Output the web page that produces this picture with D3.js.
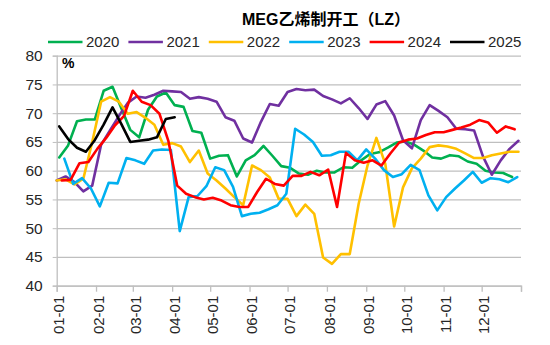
<!DOCTYPE html>
<html>
<head>
<meta charset="utf-8">
<script src="https://cdn.jsdelivr.net/npm/d3@7/dist/d3.min.js"></script>
<style>
  html, body { margin: 0; padding: 0; background: #fff; }
  svg { display: block; font-family: "Liberation Sans", Arial, "Noto Sans CJK SC", sans-serif; }
</style>
</head>
<body>
<svg id="chart" width="550" height="345"></svg>
<script>
// Weekly ethylene-based MEG operating rate (%), one series per year
const years = ["2020", "2021", "2022", "2023", "2024", "2025"];
const colors = ["#00b050", "#7030a0", "#ffc000", "#00b0f0", "#ff0000", "#000000"];
const startDates = ["01-03", "01-01", "01-01", "01-07", "01-05", "01-03"];
const monthTicks = ["01-01", "02-01", "03-01", "04-01", "05-01", "06-01",
                    "07-01", "08-01", "09-01", "10-01", "11-01", "12-01"];
const yTicks = [40, 45, 50, 55, 60, 65, 70, 75, 80];

const v2020 = [62.3, 64.4, 68.6, 68.9, 68.9, 73.9, 74.6, 70.8, 67.1, 65.8,
               70.6, 72.9, 73.6, 71.4, 71.1, 66.9, 66.6, 62.1, 62.6, 62.7,
               59.0, 61.8, 62.7, 64.3, 62.6, 60.8, 60.5, 59.5, 59.3, 60.0,
               59.7, 59.7, 60.6, 60.5, 61.8, 62.9, 63.2, 64.0, 64.9, 65.1,
               64.5, 63.5, 62.3, 62.1, 62.7, 62.5, 61.6, 61.2, 60.0, 59.7,
               59.6, 58.9];
const v2021 = [58.3, 59.0, 58.0, 56.4, 57.4, 64.5, 67.0, 69.5, 71.8, 72.9,
               72.7, 73.2, 73.9, 73.8, 73.7, 72.5, 72.8, 72.5, 72.0, 69.3,
               68.7, 65.6, 64.9, 68.5, 71.6, 71.3, 73.7, 74.2, 74.0, 74.1,
               73.0, 72.4, 71.7, 72.6, 70.9, 69.0, 71.5, 72.1, 69.6, 65.3,
               63.9, 68.8, 71.4, 70.4, 69.3, 67.3, 67.2, 67.0, 62.5, 59.3,
               61.8, 63.8, 65.2];
const v2022 = [58.3, 58.5, 57.6, 58.6, 65.0, 72.0, 72.8, 72.0, 69.9, 70.2,
               69.2, 68.0, 64.5, 64.8, 64.2, 61.5, 63.5, 59.5, 58.3, 56.9,
               55.4, 54.0, 60.9, 60.1, 58.8, 55.1, 55.1, 52.1, 54.1, 52.5,
               44.9, 43.8, 45.5, 45.5, 54.2, 60.9, 65.7, 61.2, 50.3, 57.1,
               60.4, 62.1, 64.1, 64.4, 64.2, 63.8, 63.0, 62.2, 62.2, 62.7,
               63.0, 63.3, 63.3];
const v2023 = [62.1, 57.7, 58.7, 56.9, 53.8, 57.9, 57.8, 62.2, 61.8, 61.2,
               63.5, 63.7, 63.6, 49.5, 55.4, 55.6, 57.3, 60.6, 60.1, 57.2,
               52.1, 52.5, 52.7, 53.3, 54.0, 56.0, 67.3, 66.3, 65.0, 62.6,
               62.7, 63.3, 63.3, 61.8, 63.7, 62.1, 60.1, 58.9, 59.4, 61.0,
               60.1, 55.7, 53.1, 55.4, 56.9, 58.3, 59.8, 57.9, 58.7, 58.5,
               58.0, 58.9];
const v2024 = [58.3, 58.4, 61.3, 61.5, 63.8, 65.7, 67.9, 69.5, 73.9, 72.0,
               71.4, 69.9, 65.2, 57.4, 56.0, 55.4, 55.0, 55.3, 54.8, 54.0,
               53.7, 53.7, 56.3, 58.6, 57.7, 57.4, 59.1, 59.1, 59.8, 59.2,
               60.2, 53.7, 63.1, 61.8, 61.4, 61.8, 60.9, 63.0, 64.9, 65.4,
               65.6, 66.2, 66.7, 66.7, 67.1, 67.5, 68.0, 68.8, 68.4, 66.6,
               67.7, 67.2];
const v2025 = [67.7, 65.5, 64.0, 63.3, 65.3, 68.0, 71.0, 68.1, 65.0, 65.2,
               65.4, 65.8, 69.0, 69.3];

const seriesValues = [v2020, v2021, v2022, v2023, v2024, v2025];

// All years share one calendar axis (a leap year, so every day fits)
const parseMD = md => d3.timeParse("%Y-%m-%d")("2020-" + md);

const series = years.map((yr, i) => {
  const start = parseMD(startDates[i]);
  return {
    year: yr,
    color: colors[i],
    points: seriesValues[i].map((v, k) => ({ date: d3.timeDay.offset(start, 7 * k), value: v }))
  };
});

const svg = d3.select("#chart");
const plot = { left: 56.7, right: 521, top: 55.7, bottom: 285.7 };

const x = d3.scaleTime()
  .domain([parseMD("01-01"), new Date(2021, 0, 1)])
  .range([plot.left, plot.right]);
const y = d3.scaleLinear()
  .domain([40, 80])
  .range([plot.bottom, plot.top]);

// Horizontal gridlines
svg.append("g")
  .attr("transform", `translate(${plot.left},0)`)
  .call(d3.axisLeft(y).tickValues(yTicks).tickSize(-(plot.right - plot.left)).tickFormat(""))
  .call(g => g.select(".domain").remove())
  .call(g => g.selectAll("line").attr("stroke", "#bfbfbf").attr("stroke-width", 1.3));

// Y axis
svg.append("g")
  .attr("transform", `translate(${plot.left},0)`)
  .call(d3.axisLeft(y).tickValues(yTicks).tickSize(4).tickPadding(10).tickFormat(d3.format("d")))
  .call(g => g.select(".domain").attr("stroke", "#bfbfbf").attr("stroke-width", 1.3))
  .call(g => g.selectAll("line").attr("stroke", "#bfbfbf"))
  .call(g => g.selectAll("text").attr("font-size", 15.5).attr("fill", "#262626")
    .attr("font-family", "'Liberation Sans', Arial, sans-serif"));

// X axis: month starts, plus a closing tick at year end
const xTickDates = monthTicks.map(parseMD).concat([new Date(2021, 0, 1)]);
const xAxis = svg.append("g")
  .attr("transform", `translate(0,${plot.bottom})`)
  .call(d3.axisBottom(x).tickValues(xTickDates).tickSize(6)
    .tickFormat((d, i) => i < monthTicks.length ? monthTicks[i] : ""))
  .call(g => g.select(".domain").attr("stroke", "#bfbfbf").attr("stroke-width", 1.3))
  .call(g => g.selectAll("line").attr("stroke", "#bfbfbf").attr("stroke-width", 1.3));
xAxis.selectAll("text")
  .attr("font-size", 15)
  .attr("fill", "#262626")
  .attr("font-family", "'Liberation Sans', Arial, sans-serif")
  .attr("text-anchor", "end")
  .attr("transform", "rotate(-90)")
  .attr("x", -10)
  .attr("y", 2)
  .attr("dy", "0.35em");

// Unit label
svg.append("text")
  .attr("x", 62)
  .attr("y", 68)
  .attr("font-size", 14)
  .attr("font-weight", "bold")
  .attr("fill", "#000")
  .text("%");

// Lines
const line = d3.line()
  .x(d => x(d.date))
  .y(d => y(d.value));

svg.append("g")
  .selectAll("path")
  .data(series)
  .join("path")
  .attr("d", d => line(d.points))
  .attr("fill", "none")
  .attr("stroke", d => d.color)
  .attr("stroke-width", 2.6)
  .attr("stroke-linejoin", "round")
  .attr("stroke-linecap", "round");

// Title
svg.append("text")
  .attr("x", 326)
  .attr("y", 19)
  .attr("dy", "0.35em")
  .attr("text-anchor", "middle")
  .attr("font-size", 16)
  .attr("font-weight", "bold")
  .attr("fill", "#000")
  .attr("font-family", "'Liberation Sans', Arial, 'Noto Sans CJK SC', sans-serif")
  .text("MEG乙烯制开工（LZ）");

// Legend
const legend = svg.append("g")
  .selectAll("g")
  .data(series)
  .join("g")
  .attr("transform", (d, i) => `translate(${48 + i * 80.4},42)`);
legend.append("line")
  .attr("x1", 0).attr("x2", 34.5)
  .attr("y1", 0).attr("y2", 0)
  .attr("stroke", d => d.color)
  .attr("stroke-width", 2.6);
legend.append("text")
  .attr("x", 38)
  .attr("dy", "0.35em")
  .attr("font-size", 15)
  .attr("fill", "#262626")
  .text(d => d.year);
</script>
</body>
</html>
